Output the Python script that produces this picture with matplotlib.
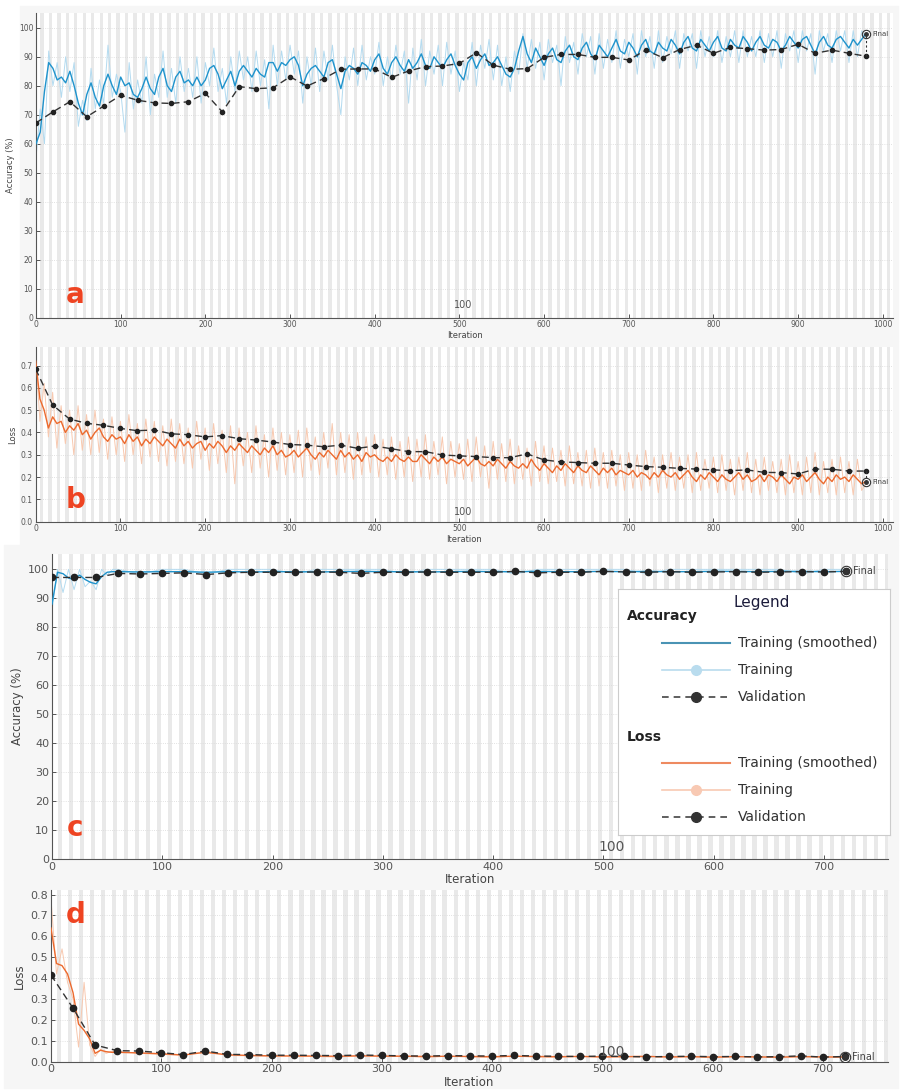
#!/usr/bin/env python3
"""
Training progress figure (four panels): accuracy / loss for two runs.
Output: out.png
"""

import numpy as np
import matplotlib
matplotlib.use("Agg")          # headless backend
import matplotlib.pyplot as plt
from matplotlib.lines import Line2D
from matplotlib.patches import Rectangle

# ---------------------------------------------------------------- data ----
# run 1 (panels a, b): training logged every 5 iterations, validation every 20
RUN1_TRAIN_ITER = np.arange(0, 985, 5)
RUN1_VAL_ITER = np.arange(0, 1000, 20)

a_smooth = [
    60, 64, 78, 88, 86, 82, 83, 81, 85, 80,
    74, 70, 77, 81, 76, 73, 80, 84, 80, 77,
    83, 80, 81, 77, 76, 79, 83, 79, 77, 83,
    86, 80, 78, 83, 85, 81, 82, 80, 83, 80,
    82, 86, 87, 84, 79, 82, 85, 80, 85, 87,
    85, 83, 86, 84, 83, 88, 88, 85, 88, 87,
    89, 90, 87, 80, 84, 86, 87, 85, 83, 88,
    89, 84, 79, 85, 87, 86, 84, 88, 87, 85,
    89, 91, 86, 84, 88, 90, 87, 85, 89, 86,
    88, 91, 87, 86, 90, 88, 86, 89, 91, 87,
    84, 82, 88, 90, 86, 89, 91, 87, 88, 90,
    87, 84, 83, 86, 92, 97, 91, 88, 93, 90,
    87, 91, 93, 89, 88, 92, 94, 90, 89, 93,
    95, 91, 89, 94, 92, 90, 93, 96, 92, 91,
    95, 93, 90, 94, 96, 92, 91, 95, 93, 92,
    96, 94, 91, 95, 97, 93, 92, 96, 94, 92,
    95, 97, 93, 92, 96, 94, 93, 97, 95, 92,
    95, 97, 94, 93, 96, 95, 92, 94, 97, 95,
    93, 96, 97, 94, 91, 95, 97, 94, 93, 96,
    97, 95, 93, 96, 94, 96, 98,
]
a_raw = [
    55, 72, 60, 92, 80, 88, 76, 90, 78, 88,
    66, 75, 68, 86, 72, 82, 74, 94, 76, 84,
    78, 64, 88, 72, 82, 74, 90, 70, 84, 76,
    92, 76, 86, 74, 90, 78, 86, 76, 90, 74,
    88, 80, 93, 78, 86, 74, 90, 78, 92, 82,
    90, 78, 92, 80, 89, 72, 94, 80, 92, 82,
    94, 84, 92, 74, 90, 80, 93, 78, 92, 82,
    94, 80, 70, 90, 82, 93, 80, 94, 82, 90,
    84, 95, 80, 90, 82, 94, 84, 92, 74, 93,
    82, 96, 80, 92, 84, 94, 80, 95, 84, 92,
    78, 88, 82, 95, 80, 94, 86, 96, 82, 94,
    80, 90, 78, 92, 84, 98, 86, 96, 86, 95,
    82, 96, 88, 94, 80, 97, 88, 95, 84, 98,
    90, 97, 84, 98, 86, 96, 88, 99, 86, 96,
    90, 98, 84, 99, 90, 97, 86, 99, 88, 97,
    91, 99, 86, 98, 92, 98, 86, 99, 90, 97,
    90, 99, 88, 97, 90, 99, 88, 99, 90, 97,
    90, 99, 88, 98, 90, 99, 86, 98, 92, 99,
    88, 99, 92, 98, 84, 99, 92, 98, 88, 99,
    92, 99, 88, 99, 90, 99, 96,
]
a_val = [
    67.2, 71.0, 74.5, 69.3, 73.0, 76.7, 75.0, 74.1, 73.9, 74.5,
    77.4, 71.0, 79.7, 79.0, 79.3, 83.1, 79.9, 82.5, 85.7, 85.8,
    85.8, 82.9, 85.1, 86.6, 86.8, 87.7, 91.4, 87.1, 85.7, 85.9,
    89.8, 90.8, 90.8, 89.8, 89.8, 88.9, 92.3, 89.7, 92.5, 94.0,
    91.2, 93.2, 92.8, 92.3, 92.5, 94.3, 91.2, 92.3, 91.2, 90.2,
]

b_smooth = [
    0.72, 0.55, 0.50, 0.42, 0.47, 0.44, 0.45, 0.40, 0.43, 0.41,
    0.44, 0.39, 0.41, 0.37, 0.40, 0.42, 0.38, 0.36, 0.39, 0.37,
    0.38, 0.35, 0.39, 0.36, 0.38, 0.34, 0.37, 0.35, 0.38, 0.36,
    0.34, 0.37, 0.35, 0.33, 0.37, 0.34, 0.36, 0.33, 0.35, 0.36,
    0.32, 0.35, 0.33, 0.36, 0.34, 0.31, 0.34, 0.32, 0.35, 0.33,
    0.31, 0.34, 0.32, 0.30, 0.33, 0.31, 0.34, 0.30, 0.32, 0.29,
    0.30, 0.32, 0.29, 0.31, 0.33, 0.30, 0.28, 0.31, 0.29, 0.32,
    0.30, 0.28, 0.32, 0.29, 0.31, 0.28, 0.30, 0.27, 0.31, 0.29,
    0.30, 0.28, 0.27, 0.29, 0.27, 0.30, 0.28, 0.27, 0.29, 0.27,
    0.27, 0.30, 0.28, 0.26, 0.29, 0.27, 0.29, 0.26, 0.28, 0.27,
    0.26, 0.28, 0.25, 0.27, 0.29, 0.26, 0.25, 0.27, 0.25, 0.28,
    0.26, 0.24, 0.27, 0.25, 0.24, 0.26, 0.24, 0.28, 0.25, 0.23,
    0.26, 0.24, 0.22, 0.25, 0.23, 0.26, 0.24, 0.22, 0.25, 0.23,
    0.22, 0.25, 0.23, 0.21, 0.24, 0.22, 0.24, 0.21, 0.23, 0.22,
    0.21, 0.23, 0.20, 0.22, 0.21, 0.19, 0.22, 0.20, 0.23, 0.21,
    0.20, 0.22, 0.19, 0.21, 0.23, 0.20, 0.18, 0.21, 0.19, 0.22,
    0.20, 0.18, 0.21, 0.19, 0.18, 0.20, 0.22, 0.19, 0.21, 0.18,
    0.19, 0.21, 0.18, 0.21, 0.20, 0.18, 0.21, 0.19, 0.17, 0.20,
    0.19, 0.21, 0.18, 0.20, 0.22, 0.19, 0.17, 0.20, 0.18, 0.21,
    0.19, 0.20, 0.18, 0.21, 0.19, 0.17, 0.18,
]
b_raw = [
    0.75, 0.45, 0.62, 0.38, 0.58, 0.33, 0.52, 0.35, 0.50, 0.30,
    0.52, 0.32, 0.48, 0.30, 0.50, 0.31, 0.46, 0.28, 0.47, 0.30,
    0.45, 0.27, 0.48, 0.30, 0.44, 0.26, 0.46, 0.29, 0.45, 0.27,
    0.43, 0.25, 0.46, 0.27, 0.44, 0.26, 0.42, 0.24, 0.45, 0.28,
    0.42, 0.23, 0.44, 0.26, 0.41, 0.22, 0.43, 0.17, 0.42, 0.25,
    0.40, 0.22, 0.43, 0.24, 0.39, 0.20, 0.42, 0.23, 0.40, 0.21,
    0.39, 0.22, 0.41, 0.20, 0.42, 0.23, 0.38, 0.21, 0.40, 0.24,
    0.44, 0.21, 0.40, 0.22, 0.39, 0.19, 0.40, 0.21, 0.38, 0.22,
    0.39, 0.20, 0.37, 0.21, 0.38, 0.19, 0.36, 0.20, 0.38, 0.18,
    0.37, 0.20, 0.39, 0.19, 0.36, 0.21, 0.38, 0.17, 0.36, 0.20,
    0.35, 0.19, 0.37, 0.18, 0.38, 0.20, 0.34, 0.15, 0.36, 0.19,
    0.35, 0.18, 0.37, 0.17, 0.34, 0.19, 0.33, 0.16, 0.36, 0.18,
    0.34, 0.17, 0.33, 0.18, 0.32, 0.16, 0.34, 0.17, 0.31, 0.16,
    0.32, 0.15, 0.33, 0.16, 0.31, 0.15, 0.32, 0.16, 0.30, 0.14,
    0.31, 0.15, 0.30, 0.14, 0.32, 0.16, 0.29, 0.13, 0.30, 0.15,
    0.31, 0.14, 0.29, 0.15, 0.30, 0.13, 0.31, 0.14, 0.28, 0.15,
    0.29, 0.13, 0.30, 0.14, 0.28, 0.12, 0.29, 0.14, 0.31, 0.13,
    0.28, 0.12, 0.29, 0.14, 0.27, 0.13, 0.28, 0.12, 0.30, 0.13,
    0.27, 0.12, 0.29, 0.13, 0.31, 0.12, 0.27, 0.13, 0.28, 0.12,
    0.29, 0.13, 0.27, 0.12, 0.28, 0.14, 0.17,
]
b_val = [
    0.684, 0.523, 0.460, 0.441, 0.432, 0.418, 0.408, 0.411, 0.394, 0.390,
    0.380, 0.386, 0.372, 0.366, 0.357, 0.346, 0.343, 0.336, 0.343, 0.329,
    0.339, 0.327, 0.314, 0.314, 0.299, 0.295, 0.292, 0.287, 0.287, 0.304,
    0.277, 0.268, 0.265, 0.262, 0.262, 0.254, 0.247, 0.244, 0.239, 0.236,
    0.232, 0.229, 0.232, 0.221, 0.220, 0.214, 0.236, 0.235, 0.227, 0.227,
]

# run 2 (panels c, d): dense logging at the start, then every 20 iterations
RUN2_TRAIN_ITER = np.array(list(range(0, 60, 5)) + list(range(60, 721, 20)))
RUN2_VAL_ITER = np.arange(0, 721, 20)

c_smooth = [
    88, 99, 98.5, 97, 96.5, 98, 96.5, 95.5, 95, 97.5, 99, 99.2,
    99.2, 99.1, 99.2, 99.2, 99.0, 99.2, 99.1, 99.2, 99.2, 99.1,
    99.2, 99.3, 99.2, 99.2, 99.1, 99.2, 99.3, 99.2, 99.2, 99.3,
    99.2, 99.2, 99.3, 99.2, 99.3, 99.2, 99.2, 99.3, 99.3, 99.2,
    99.3, 99.3, 99.2, 99.3,
]
c_raw = [
    86, 100, 92, 100, 93, 100, 94, 96, 93, 100, 98, 100,
    100, 98.4, 100, 100, 98.4, 100, 100, 100, 98.4, 100,
    100, 100, 100, 98.4, 100, 100, 100, 100, 98.4, 100,
    100, 100, 100, 100, 98.4, 100, 100, 100, 100, 100,
    100, 98.4, 100, 100,
]
c_val = [
    97.2, 97.2, 97.2, 98.6, 98.4, 98.6, 98.8, 98.2, 98.8, 99.0, 99.0,
    99.0, 99.1, 99.0, 98.6, 99.0, 99.0, 99.1, 99.0, 99.0, 99.0,
    99.3, 98.8, 99.0, 99.0, 99.3, 99.1, 99.0, 99.2, 99.0, 99.1,
    99.2, 99.0, 99.1, 99.2, 99.1, 99.3,
]

d_smooth = [
    0.64, 0.47, 0.46, 0.42, 0.33, 0.18, 0.15, 0.11, 0.04, 0.055, 0.048, 0.045,
    0.045, 0.042, 0.038, 0.032, 0.045, 0.033, 0.030, 0.028, 0.027, 0.027,
    0.026, 0.028, 0.027, 0.026, 0.025, 0.026, 0.025, 0.024, 0.026, 0.025,
    0.024, 0.025, 0.023, 0.024, 0.025, 0.023, 0.024, 0.022, 0.024, 0.023,
    0.022, 0.024, 0.023, 0.022,
]
d_raw = [
    0.78, 0.42, 0.54, 0.38, 0.30, 0.07, 0.38, 0.08, 0.025, 0.06, 0.04, 0.05,
    0.05, 0.04, 0.035, 0.03, 0.05, 0.03, 0.028, 0.025, 0.03, 0.025,
    0.022, 0.03, 0.024, 0.028, 0.02, 0.027, 0.023, 0.02, 0.028, 0.022,
    0.02, 0.027, 0.021, 0.025, 0.028, 0.02, 0.025, 0.019, 0.026, 0.021,
    0.02, 0.026, 0.021, 0.025,
]
d_val = [
    0.415, 0.256, 0.080, 0.053, 0.051, 0.043, 0.034, 0.051, 0.035, 0.034, 0.031,
    0.031, 0.030, 0.029, 0.032, 0.030, 0.028, 0.027, 0.029, 0.028, 0.027,
    0.030, 0.027, 0.026, 0.025, 0.027, 0.025, 0.023, 0.025, 0.026, 0.024,
    0.025, 0.023, 0.024, 0.028, 0.022, 0.025,
]

# ------------------------------------------------------------- styling ----
ACC_SMOOTH = "#1f93cc"
ACC_RAW = "#b4dbf0"
LOSS_SMOOTH = "#ec6a2e"
LOSS_RAW = "#f8c9b0"
VAL_COL = "#333333"
STRIPE = "#e9e9e9"
LETTER = "#ee4422"
W, H = 907, 1091


def px_box(left, top, right, bottom):
    """Pixel box (from the top-left corner) -> figure fraction rect."""
    return [left / W, 1 - bottom / H, (right - left) / W, (bottom - top) / H]


def style_axes(ax, xmax, ymax, yticks, xtick_size, ylabel):
    ax.set_xlim(0, xmax)
    ax.set_ylim(0, ymax)
    # alternating epoch shading (10 iterations per epoch)
    for x0 in range(0, int(xmax), 10):
        ax.axvspan(x0 + 5, x0 + 9, color=STRIPE, lw=0, zorder=0)
    ax.set_yticks(yticks)
    ax.set_xticks(np.arange(0, xmax, 100))
    ax.grid(axis="y", color="#d8d8d8", lw=0.6, ls=":")
    ax.set_axisbelow(True)
    for side in ("top", "right"):
        ax.spines[side].set_visible(False)
    for side in ("left", "bottom"):
        ax.spines[side].set_color("#555555")
        ax.spines[side].set_linewidth(0.8)
    ax.tick_params(direction="in", length=3, width=0.7, colors="#555555",
                   labelsize=xtick_size, pad=2)
    ax.set_xlabel("Iteration", fontsize=xtick_size + 0.5, color="#444444",
                  labelpad=1)
    ax.set_ylabel(ylabel, fontsize=xtick_size + 0.5, color="#444444",
                  labelpad=3)


def draw_series(ax, t_iter, smooth, raw, v_iter, val, col_s, col_r,
                ms, final_xy, final_size):
    ax.plot(t_iter, raw, color=col_r, lw=0.7, zorder=2)
    ax.plot(t_iter, smooth, color=col_s, lw=1.0, zorder=3)
    ax.plot(v_iter, val, color=VAL_COL, lw=1.0, ls=(0, (5, 3)), marker="o",
            ms=ms, mfc="#222222", mec="#222222", zorder=4)
    fx, fy = final_xy
    ax.plot([fx, fx], [val[-1], fy], color=VAL_COL, lw=0.8, ls=(0, (2, 2)),
            zorder=4)
    ax.plot(fx, fy, "o", ms=ms + 3, mfc="none", mec="#333333", mew=0.8,
            zorder=5)
    ax.plot(fx, fy, "o", ms=ms - 0.5, color="#333333", zorder=5)
    ax.annotate("Final", (fx, fy), xytext=(5, 0), textcoords="offset points",
                va="center", fontsize=final_size, color="#444444")


def draw_legend(fig):
    lx = fig.add_axes(px_box(618, 589, 890, 835))
    lx.set_xlim(0, 272)
    lx.set_ylim(246, 0)
    lx.set_xticks([])
    lx.set_yticks([])
    for s in lx.spines.values():
        s.set_color("#cccccc")
        s.set_linewidth(0.8)
    lx.text(144, 14, "Legend", ha="center", va="center", fontsize=11,
            color="#1b1b3a")
    groups = [
        ("Accuracy", 27, [54, 81, 108], "#4a93b4", "#b9dcee"),
        ("Loss", 148, [174, 201, 228], "#ee8a60", "#f8c9b3"),
    ]
    for title, ty, rows, c_s, c_r in groups:
        lx.text(9, ty, title, fontsize=10, fontweight="bold", va="center",
                color="#222222")
        lx.plot([44, 112], [rows[0]] * 2, color=c_s, lw=1.5)
        lx.plot([44, 112], [rows[1]] * 2, color=c_r, lw=1.2)
        lx.plot([78], [rows[1]], "o", ms=7, color=c_r)
        lx.plot([44, 112], [rows[2]] * 2, color="#444444", lw=1.2,
                ls=(0, (4, 3)))
        lx.plot([78], [rows[2]], "o", ms=7, color="#333333")
        for y, label in zip(rows, ["Training (smoothed)", "Training",
                                   "Validation"]):
            lx.text(120, y, label, fontsize=10, va="center", color="#333333")


def main() -> None:
    fig = plt.figure(figsize=(W / 100, H / 100), dpi=100, facecolor="white")

    # light panel backgrounds
    for box in [(20, 6, 898, 341), (20, 341, 898, 545),
                (4, 545, 898, 880), (4, 880, 898, 1088)]:
        l, t, r, b = box
        fig.patches.append(Rectangle((l / W, 1 - b / H), (r - l) / W,
                                     (b - t) / H, transform=fig.transFigure,
                                     color="#f6f6f6", zorder=-10))

    # ---- panel a ----
    ax_a = fig.add_axes(px_box(36, 12.7, 893, 317.7))
    style_axes(ax_a, 1012, 105.2, np.arange(0, 101, 10), 5.5, "Accuracy (%)")
    draw_series(ax_a, RUN1_TRAIN_ITER, a_smooth, a_raw, RUN1_VAL_ITER, a_val,
                ACC_SMOOTH, ACC_RAW, 3, (980, a_smooth[-1]), 5)

    # ---- panel b ----
    ax_b = fig.add_axes(px_box(35.7, 347, 893, 521.7))
    style_axes(ax_b, 1012, 0.783, np.round(np.arange(0, 0.71, 0.1), 1), 5.5,
               "Loss")
    draw_series(ax_b, RUN1_TRAIN_ITER, b_smooth, b_raw, RUN1_VAL_ITER, b_val,
                LOSS_SMOOTH, LOSS_RAW, 3, (980, b_smooth[-1]), 5)

    # ---- panel c ----
    ax_c = fig.add_axes(px_box(52, 554, 888, 859))
    style_axes(ax_c, 758, 105.3, np.arange(0, 101, 10), 8, "Accuracy (%)")
    draw_series(ax_c, RUN2_TRAIN_ITER, c_smooth, c_raw, RUN2_VAL_ITER, c_val,
                ACC_SMOOTH, ACC_RAW, 4.5, (720, c_smooth[-1]), 7)

    # ---- panel d ----
    ax_d = fig.add_axes(px_box(51, 890, 888, 1061.7))
    style_axes(ax_d, 759, 0.822, np.round(np.arange(0, 0.81, 0.1), 1), 8,
               "Loss")
    draw_series(ax_d, RUN2_TRAIN_ITER, d_smooth, d_raw, RUN2_VAL_ITER, d_val,
                LOSS_SMOOTH, LOSS_RAW, 4.5, (720, d_smooth[-1]), 7)

    draw_legend(fig)

    # panel letters and stray "100" labels from the screenshot
    for letter, (x, y) in zip("abcd", [(75, 295), (76, 500), (75, 828),
                                       (76, 915)]):
        fig.text(x / W, 1 - y / H, letter, fontsize=20, fontweight="bold",
                 color=LETTER, ha="center", va="center")
    for (x, y), size in zip([(463, 305), (463, 512), (612, 847), (612, 1052)],
                            [7, 7, 10, 10]):
        fig.text(x / W, 1 - y / H, "100", fontsize=size, color="#555555",
                 ha="center", va="center")

    fig.savefig("out.png", dpi=100, facecolor=fig.get_facecolor())
    plt.close(fig)


if __name__ == "__main__":
    main()
